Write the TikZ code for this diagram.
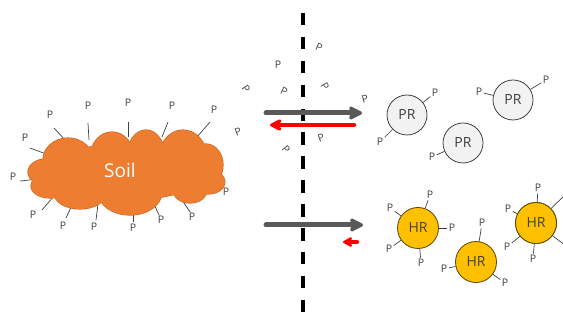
\documentclass[tikz,border=0pt]{standalone}
\usepackage{fontspec}
\setmainfont{Open Sans}
\usetikzlibrary{arrows.meta}
\definecolor{soilorange}{HTML}{ED7D31}
\definecolor{soiledge}{HTML}{C9621C}
\definecolor{arrowgray}{HTML}{595959}
\definecolor{txtgray}{HTML}{404040}
\definecolor{prfill}{HTML}{F2F2F2}
\definecolor{hrfill}{HTML}{FFC000}
\definecolor{hredge}{HTML}{5C4600}
\definecolor{redarrow}{HTML}{FF0000}
\tikzset{
  plab/.style={text=txtgray,font=\fontsize{10.5}{11}\selectfont,inner sep=1pt},
  stick/.style={draw=txtgray,line width=0.7pt},
  pstick/.style={draw=txtgray,line width=0.7pt,shorten >=0.5pt},
  prball/.style={circle,fill=prfill,draw=txtgray,line width=0.8pt,minimum size=40pt,inner sep=0pt,text=txtgray,font=\fontsize{14}{15}\selectfont},
  hrball/.style={circle,fill=hrfill,draw=hredge,line width=0.8pt,minimum size=41pt,inner sep=0pt,text=txtgray,font=\fontsize{14}{15}\selectfont},
  grayarrow/.style={draw=arrowgray,line width=5pt,line cap=round,-{Stealth[length=16pt,width=16pt,inset=3pt,round]}},
  redarr/.style={draw=redarrow,line width=4.5pt,line cap=round,-{Stealth[length=14pt,width=14pt,inset=3pt,round]}},
  membrane/.style={draw=black,line width=3.5pt,dash pattern=on 12.5pt off 11.4pt},
  puffline/.style={draw=soiledge,line width=1.2pt},
  pufffill/.style={fill=soilorange}
}
\newcommand{\soilpuffs}[1]{%
  \path[#1] (68,160) ellipse [x radius=25,y radius=22];
  \path[#1] (112,158) ellipse [x radius=22,y radius=26];
  \path[#1] (146,156) ellipse [x radius=19,y radius=26];
  \path[#1] (183,158) ellipse [x radius=24,y radius=28];
  \path[#1] (206,165) ellipse [x radius=17,y radius=21];
  \path[#1] (208,182) ellipse [x radius=17,y radius=12];
  \path[#1] (190,190) ellipse [x radius=17,y radius=13];
  \path[#1] (130,192) ellipse [x radius=32,y radius=23];
  \path[#1] (80,193) ellipse [x radius=26,y radius=16];
  \path[#1] (50,186) ellipse [x radius=19,y radius=12];
  \path[#1] (46,172) ellipse [x radius=18,y radius=13];
  \path[#1] (126,172) ellipse [x radius=80,y radius=28];
}
\begin{document}
\begin{tikzpicture}[x=1pt,y=-1pt]
\useasboundingbox (0,0) rectangle (563,320);
% membrane
\coordinate (mt) at (303,13);
\coordinate (mb) at (303,325);
\draw[membrane] (mt) -- (mb);
% sticks around soil
\foreach \i/\px/\py/\ax/\ay/\bx/\by in {
 1/50/115/54/128/65/140,
 2/88/106/88/123/89/140,
 3/128/103/128/122/128/137,
 4/172/106/168/122/162/137,
 5/214/110/210/122/197/137,
 6/25/138/30/148/46/154,
 7/13/177/20/181/38/179,
 8/33/215/42/210/54/196,
 9/63/226/66/218/72/205,
 10/94/227/96/220/98/204,
 11/133/228/133/222/133/210,
 12/161/220/159/215/154/204,
 13/192/217/190/212/182/200,
 14/226/192/220/190/209/186}
{
 \node[plab] (s\i) at (\px,\py) {P};
 \coordinate (sa\i) at (\ax,\ay);
 \coordinate (sb\i) at (\bx,\by);
 \draw[stick] (sa\i) -- (sb\i);
}
% soil cloud
\soilpuffs{puffline}
\soilpuffs{pufffill}
\node[text=white,font=\fontsize{19}{20}\selectfont] (soil) at (120,170) {Soil};
% free P's
\node[plab,rotate=-25] (f1) at (319,47) {P};
\node[plab] (f2) at (278,65) {P};
\node[plab,rotate=-55] (f3) at (246,89) {P};
\node[plab,rotate=-25] (f4) at (284,91) {P};
\node[plab,rotate=-60] (f5) at (325,86) {P};
\node[plab,rotate=15] (f6) at (365,99) {P};
\node[plab,rotate=20] (f7) at (238,132) {P};
\node[plab,rotate=-50] (f8) at (286,150) {P};
\node[plab,rotate=20] (f9) at (321,138) {P};
% arrows
\coordinate (a1s) at (266,113);
\coordinate (a1e) at (362,113);
\coordinate (r1s) at (354,125);
\coordinate (r1e) at (270,125);
\coordinate (a2s) at (266,225);
\coordinate (a2e) at (363,225);
\coordinate (r2s) at (357,242);
\coordinate (r2e) at (343,242);
\draw[grayarrow] (a1s) -- (a1e);
\draw[redarr] (r1s) -- (r1e);
\draw[grayarrow] (a2s) -- (a2e);
\draw[redarr,-{Stealth[length=11pt,width=12pt,inset=2.5pt,round]}] (r2s) -- (r2e);
% PR balls
\node[prball] (pr1) at (407,115) {PR};
\node[prball] (pr2) at (513,100) {PR};
\node[prball] (pr3) at (463,143) {PR};
\node[plab] (pr1a) at (435,93) {P};
\node[plab] (pr1b) at (380,142) {P};
\node[plab] (pr2a) at (479,92) {P};
\node[plab] (pr2b) at (546,80) {P};
\node[plab] (pr3a) at (432,157) {P};
\draw[pstick] (pr1) -- (pr1a);
\draw[pstick] (pr1) -- (pr1b);
\draw[pstick] (pr2) -- (pr2a);
\draw[pstick] (pr2) -- (pr2b);
\draw[pstick] (pr3) -- (pr3a);
% HR balls
\node[hrball] (hr1) at (418,228) {HR};
\node[hrball] (hr2) at (476,262) {HR};
\node[hrball] (hr3) at (536,223) {HR};
\node[plab] (hr1a) at (430,195) {P};
\node[plab] (hr1b) at (390,208) {P};
\node[plab] (hr1c) at (452,228) {P};
\node[plab] (hr1d) at (389,249) {P};
\node[plab] (hr1e) at (421,263) {P};
\node[plab] (hr2a) at (482,223) {P};
\node[plab] (hr2b) at (444,269) {P};
\node[plab] (hr2c) at (505,283) {P};
\node[plab] (hr3a) at (538,188) {P};
\node[plab] (hr3b) at (508,209) {P};
\node[plab] (hr3c) at (507,247) {P};
\node[plab] (hr3d) at (533,259) {P};
\coordinate (hr3e) at (566,194);
\coordinate (hr3f) at (566,246);
\foreach \b/\p in {hr1/hr1a,hr1/hr1b,hr1/hr1c,hr1/hr1d,hr1/hr1e,hr2/hr2a,hr2/hr2b,hr2/hr2c,hr3/hr3a,hr3/hr3b,hr3/hr3c,hr3/hr3d}
  {\draw[pstick] (\b) -- (\p);}
\draw[stick] (hr3) -- (hr3e);
\draw[stick] (hr3) -- (hr3f);
\node[hrball] at (hr3) {HR};
\end{tikzpicture}
\end{document}
